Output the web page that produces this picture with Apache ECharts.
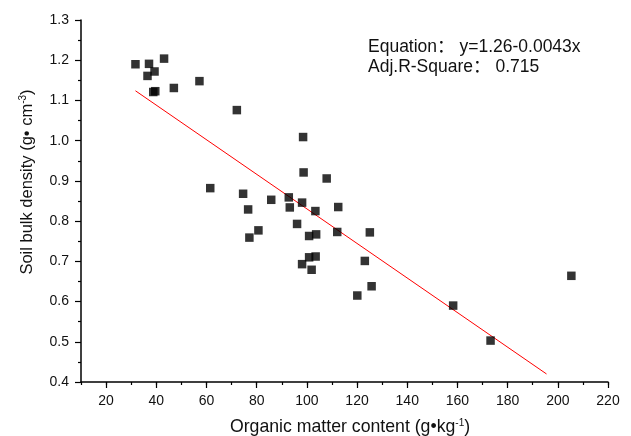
<!DOCTYPE html>
<html>
<head>
<meta charset="utf-8">
<script src="https://cdn.jsdelivr.net/npm/echarts@6/dist/echarts.min.js"></script>
<style>html,body{margin:0;padding:0;background:#fff}#c{width:631px;height:436px}</style>
</head>
<body>
<div id="c"></div>
<script>
// Organic matter content (g·kg-1)
var omX = [31.7, 37.1, 43.1, 39.3, 36.5, 38.8, 39.6, 47.0, 57.2, 72.1,
           98.5, 98.7, 107.9, 61.5, 74.6, 85.8, 92.8, 98.1, 76.6, 93.2,
           103.4, 112.5, 96.1, 80.7, 77.1, 100.9, 103.7, 112.1, 125.1, 98.1,
           100.9, 103.5, 101.9, 123.1, 125.8, 120.1, 158.3, 173.2, 205.4];
// Soil bulk density (g·cm-3)
var bdY = [1.190, 1.191, 1.204, 1.172, 1.161, 1.121, 1.123, 1.131, 1.148, 1.076,
           1.009, 0.921, 0.906, 0.882, 0.868, 0.853, 0.859, 0.846, 0.829, 0.834,
           0.825, 0.835, 0.793, 0.777, 0.759, 0.763, 0.767, 0.773, 0.772, 0.693,
           0.710, 0.712, 0.679, 0.701, 0.638, 0.615, 0.590, 0.503, 0.664];
// Fitted line end points
var fitX = [31.7, 195.5];
var fitY = [1.124, 0.420];
var xMajorTicks = [20, 40, 60, 80, 100, 120, 140, 160, 180, 200, 220];
var eqText = 'Equation： y=1.26-0.0043x';
var r2Text = 'Adj.R-Square： 0.715';
var xTitle = '{t|Organic matter content (g•kg}{s|-1}{t|)}';
var yTitle = '{t|Soil bulk density (g• cm}{s|-3}{t|)}';

var FONT = '"Liberation Sans", Arial, "Noto Sans CJK SC", sans-serif';
var chart = echarts.init(document.getElementById('c'));
var scatter = omX.map(function (x, i) { return [x, bdY[i]]; });
var fit = fitX.map(function (x, i) { return [x, fitY[i]]; });

function richStyle(size) {
  return {
    t: { fontSize: size, fill: '#111', fontFamily: FONT },
    s: { fontSize: 10, fill: '#111', fontFamily: FONT, verticalAlign: 'top', padding: [0, 0, 8, 0] }
  };
}

chart.setOption({
  animation: false,
  backgroundColor: '#fff',
  textStyle: { fontFamily: FONT },
  grid: { left: 81, right: 23, top: 20, bottom: 54 },
  xAxis: [{
    type: 'value', min: 10, max: 220, interval: 10,
    axisLine: { show: true, lineStyle: { color: '#000', width: 1.5 } },
    axisTick: { show: true, length: 3, lineStyle: { color: '#000', width: 1.2 } },
    axisLabel: { show: true, customValues: xMajorTicks, margin: 12, fontSize: 14, color: '#111', fontFamily: FONT },
    splitLine: { show: false }
  }, {
    type: 'value', min: 10, max: 220, position: 'bottom',
    axisLine: { show: false },
    axisTick: { show: true, length: 6, customValues: xMajorTicks, lineStyle: { color: '#000', width: 1.2 } },
    axisLabel: { show: false },
    splitLine: { show: false }
  }],
  yAxis: {
    type: 'value', min: 0.4, max: 1.3, interval: 0.1,
    axisLine: { show: true, lineStyle: { color: '#000', width: 1.5 } },
    axisTick: { show: true, length: 6, lineStyle: { color: '#000', width: 1.2 } },
    minorTick: { show: true, splitNumber: 2, length: 3, lineStyle: { color: '#000', width: 1.2 } },
    axisLabel: { margin: 12, fontSize: 14, color: '#111', fontFamily: FONT,
      formatter: function (v) { return v.toFixed(1); } },
    splitLine: { show: false }
  },
  graphic: [
    { type: 'text', left: 368, top: 38, style: { text: eqText, fill: '#111', font: '17.5px ' + FONT } },
    { type: 'text', left: 368, top: 58, style: { text: r2Text, fill: '#111', font: '17.5px ' + FONT } },
    { type: 'text', x: 350, y: 427, style: { text: xTitle, rich: richStyle(17.7), align: 'center', verticalAlign: 'middle' } },
    { type: 'text', x: 27, y: 182, rotation: Math.PI / 2, style: { text: yTitle, rich: richStyle(16.5), align: 'center', verticalAlign: 'middle' } }
  ],
  series: [{
    type: 'line', data: fit, symbol: 'none', silent: true,
    lineStyle: { color: '#ff0000', width: 1 }, z: 2
  }, {
    type: 'scatter', data: scatter, symbol: 'rect', symbolSize: 8.5,
    itemStyle: { color: '#000' }, z: 3
  }]
});
</script>
</body>
</html>
